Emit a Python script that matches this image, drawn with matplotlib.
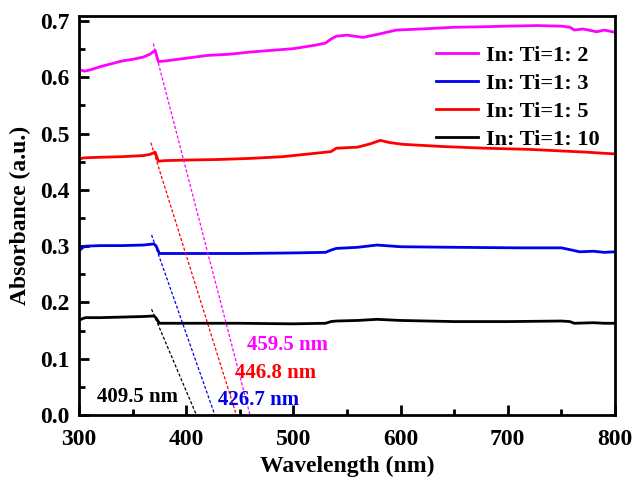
import matplotlib.pyplot as plt

plt.rcParams['font.family'] = ['Liberation Serif', 'DejaVu Serif']
plt.rcParams['font.weight'] = 'bold'

# wavelength (nm) and absorbance
wl_2 = [300, 305, 310, 320, 330, 340, 350, 360, 366, 371, 374, 380, 400, 420, 440, 460,
        480, 500, 520, 530, 535, 540, 550, 565, 580, 596, 620, 650, 680, 700, 727, 750,
        758, 762, 770, 783, 790, 800]
ab_2 = [0.614, 0.611, 0.613, 0.619, 0.624, 0.629, 0.632, 0.636, 0.641, 0.648, 0.628, 0.629,
        0.634, 0.639, 0.641, 0.645, 0.648, 0.651, 0.657, 0.661, 0.668, 0.673, 0.675, 0.671,
        0.677, 0.684, 0.686, 0.689, 0.690, 0.691, 0.692, 0.691, 0.689, 0.684, 0.686, 0.681,
        0.684, 0.680]

wl_3 = [300, 303, 306, 320, 340, 360, 370, 372, 375, 400, 450, 500, 530, 535, 540, 560,
        578, 600, 650, 711, 750, 760, 767, 780, 790, 800]
ab_3 = [0.291, 0.297, 0.300, 0.301, 0.301, 0.302, 0.304, 0.300, 0.287, 0.287, 0.287, 0.288,
        0.289, 0.293, 0.296, 0.298, 0.302, 0.299, 0.298, 0.297, 0.297, 0.293, 0.290, 0.291,
        0.289, 0.290]

wl_5 = [300, 305, 320, 340, 360, 366, 371, 374, 380, 400, 430, 460, 490, 510, 525, 535,
        540, 560, 572, 581, 590, 602, 640, 680, 720, 774, 790, 800]
ab_5 = [0.455, 0.457, 0.458, 0.459, 0.461, 0.463, 0.467, 0.451, 0.452, 0.453, 0.454, 0.456,
        0.459, 0.463, 0.466, 0.468, 0.474, 0.476, 0.482, 0.488, 0.484, 0.481, 0.477, 0.474,
        0.472, 0.467, 0.465, 0.464]

wl_10 = [300, 303, 306, 320, 340, 360, 370, 372, 375, 400, 450, 500, 530, 535, 540, 560,
         578, 600, 650, 700, 750, 758, 762, 780, 790, 800]
ab_10 = [0.168, 0.171, 0.173, 0.173, 0.174, 0.175, 0.176, 0.172, 0.163, 0.163, 0.163, 0.162,
         0.163, 0.166, 0.167, 0.168, 0.170, 0.168, 0.166, 0.166, 0.167, 0.166, 0.163, 0.164,
         0.163, 0.163]

labels = ['In: Ti=1: 2', 'In: Ti=1: 3', 'In: Ti=1: 5', 'In: Ti=1: 10']
colors = ['#ff00ff', '#0000ee', '#ff0000', '#000000']

# tangent lines: (start wavelength, start absorbance, band edge at zero absorbance)
tan_start_wl = [369.3, 367.7, 367.0, 367.7]
tan_start_ab = [0.660, 0.320, 0.484, 0.188]
edges = [459.5, 426.7, 446.8, 409.5]
edge_text_x = [456.5, 429.5, 445.5, 316.5]
edge_text_y = [0.124, 0.027, 0.075, 0.032]

fig = plt.figure(figsize=(6.35, 4.79), dpi=100)
ax = fig.add_axes([79/635, 1 - 415/479, 536/635, 399/479])

series = [(wl_2, ab_2), (wl_3, ab_3), (wl_5, ab_5), (wl_10, ab_10)]
for (w, a), lab, c in zip(series, labels, colors):
    ax.plot(w, a, color=c, lw=2, label=lab)

for x0, y0, e, c in zip(tan_start_wl, tan_start_ab, edges, colors):
    ax.plot([x0, e], [y0, 0], color=c, lw=0.9, ls=(0, (2.5, 1.5)))

for e, tx, ty, c in zip(edges, edge_text_x, edge_text_y, colors):
    ax.text(tx, ty, '%.1f nm' % e, color=c, fontsize=15, fontweight='bold', va='center')

ax.set_xlim(300, 800)
ax.set_ylim(0, 0.709)
ax.set_xticks([300, 400, 500, 600, 700, 800])
ax.set_xticks(range(350, 800, 100), minor=True)
ax.set_yticks([0.0, 0.1, 0.2, 0.3, 0.4, 0.5, 0.6, 0.7])
ax.set_yticks([0.05, 0.15, 0.25, 0.35, 0.45, 0.55, 0.65], minor=True)
ax.tick_params(which='both', direction='in', width=2, labelsize=17, top=False, right=False)
ax.tick_params(which='major', length=7)
ax.tick_params(which='minor', length=4)
ax.tick_params(axis='y', pad=7)
ax.tick_params(axis='x', pad=10)
for s in ax.spines.values():
    s.set_linewidth(2)

ax.set_xlabel('Wavelength (nm)', fontsize=17, fontweight='bold', labelpad=4)
ax.set_ylabel('Absorbance (a.u.)', fontsize=17, fontweight='bold', labelpad=6)

leg = ax.legend(loc='upper right', frameon=False, fontsize=16, handlelength=1.9,
                handletextpad=0.35, labelspacing=0.33, borderaxespad=0.3,
                bbox_to_anchor=(1.0, 0.965))

fig.savefig('out.png', dpi=100)
